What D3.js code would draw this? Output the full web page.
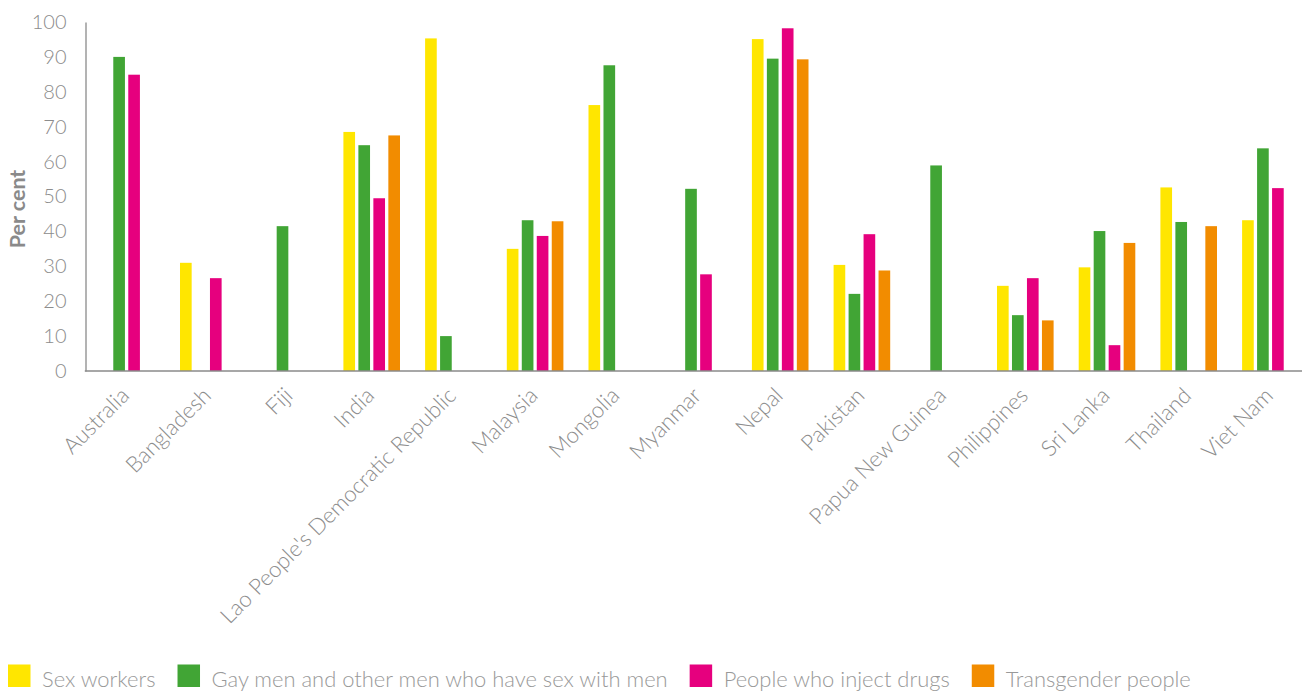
<!DOCTYPE html>
<html>
<head>
<meta charset="utf-8">
<script src="https://cdn.jsdelivr.net/npm/d3@7"></script>
<style>
  html, body { margin: 0; padding: 0; background: #fff; }
  svg { display: block; }
  text { font-family: Lato, "Open Sans", sans-serif; }
</style>
</head>
<body>
<svg id="chart" width="1307" height="692"></svg>
<script>
const countries = ["Australia", "Bangladesh", "Fiji", "India", "Lao People's Democratic Republic",
  "Malaysia", "Mongolia", "Myanmar", "Nepal", "Pakistan", "Papua New Guinea", "Philippines",
  "Sri Lanka", "Thailand", "Viet Nam"];
const seriesNames = ["Sex workers", "Gay men and other men who have sex with men",
  "People who inject drugs", "Transgender people"];
const sexWorkers   = [null, 31, null, 68.5, 95.3, 35, 76.2, null, 95.1, 30.4, null, 24.4, 29.7, 52.6, 43.2];
const msm          = [90, null, 41.5, 64.7, 10, 43.2, 87.6, 52.2, 89.5, 22.1, 58.9, 16, 40.1, 42.7, 63.8];
const pwid         = [84.9, 26.6, null, 49.5, null, 38.7, null, 27.7, 98.2, 39.2, null, 26.6, 7.4, null, 52.4];
const transgender  = [null, null, null, 67.5, null, 42.9, null, null, 89.3, 28.8, null, 14.5, 36.7, 41.5, null];
const yTicks = [0, 10, 20, 30, 40, 50, 60, 70, 80, 90, 100];
const colors = ["#FFE600", "#41A535", "#E6007E", "#F28C00"];

const seriesValues = [sexWorkers, msm, pwid, transgender];

const svg = d3.select("#chart");
const axisLeftX = 85.5, axisRightX = 1302, baseY = 371, topY = 22;

const x0 = d3.scaleBand().domain(countries).range([85.75, 1311.25]).padding(0);
const x1 = d3.scaleBand().domain(seriesNames).range([-28.3, 28.3]).paddingInner(0.222).paddingOuter(0);
const y = d3.scaleLinear().domain([0, 100]).range([baseY, topY]);
const color = d3.scaleOrdinal().domain(seriesNames).range(colors);

// bars
const data = [];
countries.forEach((c, i) => {
  seriesNames.forEach((s, j) => {
    const v = seriesValues[j][i];
    if (v !== null) data.push({ country: c, series: s, value: v });
  });
});

svg.append("g").selectAll("rect").data(data).join("rect")
  .attr("x", d => x0(d.country) + x0.bandwidth() / 2 + x1(d.series))
  .attr("y", d => y(d.value))
  .attr("width", x1.bandwidth())
  .attr("height", d => y(0) - y(d.value))
  .attr("fill", d => color(d.series));

// y axis
const yAxis = svg.append("g")
  .attr("transform", `translate(${axisLeftX},0)`)
  .call(d3.axisLeft(y).tickValues(yTicks).tickSize(0).tickSizeOuter(0).tickPadding(19));
yAxis.select(".domain").attr("stroke", "#8a8a8a").attr("stroke-width", 1.3);
yAxis.selectAll("text")
  .attr("fill", "#8c8c8c")
  .style("font-size", "20px")
  .style("font-weight", 300)
  .attr("font-family", null);

// x axis line
svg.append("line")
  .attr("x1", axisLeftX - 0.7).attr("x2", axisRightX)
  .attr("y1", baseY).attr("y2", baseY)
  .attr("stroke", "#8a8a8a").attr("stroke-width", 1.5);

// x labels
svg.append("g").selectAll("text").data(countries).join("text")
  .attr("transform", d => `translate(${x0(d) + x0.bandwidth() / 2 + 4},${397}) rotate(-45)`)
  .attr("text-anchor", "end")
  .attr("fill", "#8c8c8c")
  .style("font-size", "22.2px")
  .style("font-weight", 300)
  .text(d => d);

// y title
svg.append("text")
  .attr("transform", `translate(24.5,${(topY + baseY) / 2 + 12.5}) rotate(-90)`)
  .attr("text-anchor", "middle")
  .attr("fill", "#8a8a8a")
  .style("font-size", "21.5px")
  .style("font-weight", 700)
  .text("Per cent");

// legend
const legend = svg.append("g");
let lx = 8;
seriesNames.forEach((s, j) => {
  legend.append("rect")
    .attr("x", lx).attr("y", 664.5).attr("width", 22.5).attr("height", 22.5)
    .attr("fill", color(s));
  const t = legend.append("text")
    .attr("x", lx + 34).attr("y", 686.5)
    .attr("fill", "#999999")
    .style("font-size", "21.95px")
    .style("font-weight", 300)
    .text(s);
  lx += 34 + t.node().getComputedTextLength() + 22;
});
</script>
</body>
</html>
